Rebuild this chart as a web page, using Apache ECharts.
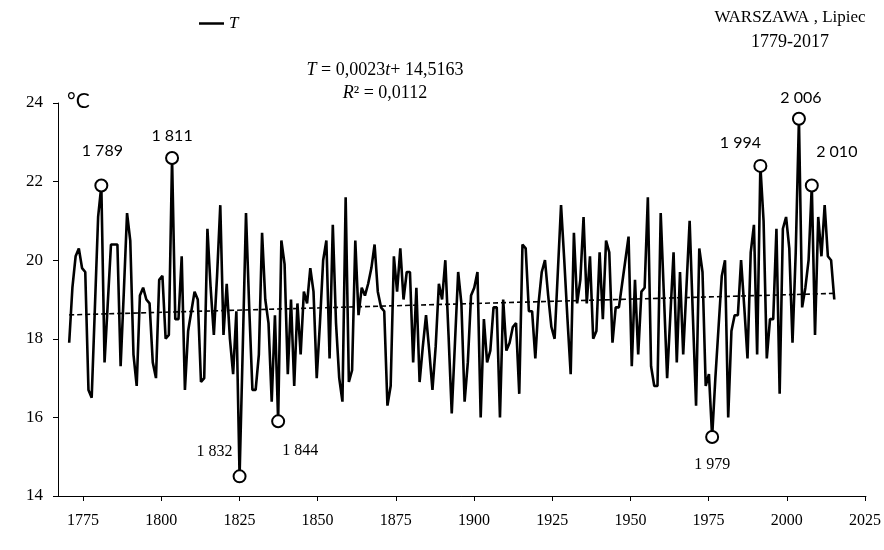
<!DOCTYPE html>
<html>
<head>
<meta charset="utf-8">
<script src="https://cdn.jsdelivr.net/npm/echarts@6/dist/echarts.min.js"></script>
<style>
  html, body { margin: 0; padding: 0; background: #ffffff; }
  #chart { width: 884px; height: 550px; }
</style>
</head>
<body>
<div id="chart"></div>
<script>
// Mean July air temperature in Warsaw, °C, one value per year from FIRST_YEAR on
const FIRST_YEAR = 1779;
const temperatures = [
  17.9,
  19.3, 20.1, 20.3, 19.8, 19.7, 16.7, 16.5, 18.8, 21.1, 21.9,   // 1780-1789
  17.4, 18.9, 20.4, 20.4, 20.4, 17.3, 19.2, 21.2, 20.5, 17.6,   // 1790-1799
  16.8, 19.1, 19.3, 19.0, 18.9, 17.4, 17.0, 19.5, 19.6, 18.0,   // 1800-1809
  18.1, 22.6, 18.5, 18.5, 20.1, 16.7, 18.2, 18.7, 19.2, 19.0,   // 1810-1819
  16.9, 17.0, 20.8, 19.3, 18.1, 19.6, 21.4, 18.1, 19.4, 18.0,   // 1820-1829
  17.1, 18.7, 14.5, 17.8, 21.2, 18.8, 16.7, 16.7, 17.6, 20.7,   // 1830-1839
  19.0, 18.4, 16.4, 18.6, 15.9, 20.5, 19.9, 17.1, 19.0, 16.8,   // 1840-1849
  18.9, 17.6, 19.2, 18.9, 19.8, 19.2, 17.0, 18.4, 20.0, 20.5,   // 1850-1859
  17.5, 20.9, 18.4, 17.0, 16.4, 21.6, 16.9, 17.2, 20.5, 18.6,   // 1860-1869
  19.3, 19.1, 19.4, 19.8, 20.4, 19.2, 18.8, 18.7, 16.3, 16.8,   // 1870-1879
  20.1, 19.2, 20.3, 19.0, 19.7, 19.7, 17.4, 19.3, 16.9, 17.8,   // 1880-1889
  18.6, 17.7, 16.7, 17.8, 19.4, 19.0, 20.0, 18.1, 16.1, 17.9,   // 1890-1899
  19.7, 18.9, 16.4, 17.4, 19.1, 19.3, 19.7, 16.0, 18.5, 17.4,   // 1900-1909
  17.7, 18.8, 18.8, 16.0, 19.0, 17.7, 17.9, 18.3, 18.4, 16.6,   // 1910-1919
  20.4, 20.3, 18.7, 18.7, 17.5, 18.9, 19.7, 20.0, 19.1, 18.3,   // 1920-1929
  18.0, 19.7, 21.4, 20.0, 18.5, 17.1, 20.7, 18.9, 19.5, 21.1,   // 1930-1939
  18.9, 20.1, 18.0, 18.2, 20.2, 18.5, 20.5, 20.2, 17.9, 18.8,   // 1940-1949
  18.8, 19.4, 20.0, 20.6, 17.3, 19.5, 17.6, 19.2, 19.3, 21.6,   // 1950-1959
  17.3, 16.8, 16.8, 21.2, 19.1, 17.0, 18.6, 20.2, 17.4, 19.7,   // 1960-1969
  17.6, 19.3, 21.0, 18.6, 16.3, 20.3, 19.7, 16.8, 17.1, 15.5,   // 1970-1979
  17.0, 18.3, 19.6, 20.0, 16.0, 18.2, 18.6, 18.6, 20.0, 18.8,   // 1980-1989
  17.5, 20.2, 20.9, 17.6, 22.4, 21.0, 17.5, 18.5, 18.5, 20.8,   // 1990-1999
  16.6, 20.8, 21.1, 20.3, 17.9, 20.2, 23.6, 18.8, 19.3, 20.0,   // 2000-2009
  21.9, 18.1, 21.1, 20.1, 21.4, 20.1, 20.0, 19.0                // 2010-2017
];
const years = temperatures.map((_, i) => FIRST_YEAR + i);
const LAST_YEAR = years[years.length - 1];

// Extreme years that get a circle and a year label
const markedYears = [1789, 1811, 1832, 1844, 1979, 1994, 2006, 2010];

// Bottom axis tick labels
const xTickLabels = [1775, 1800, 1825, 1850, 1875, 1900, 1925, 1950, 1975, 2000, 2025];

// Linear trend T = a*t + b
const TREND_SLOPE = 0.0023;
const TREND_INTERCEPT = 14.5163;
const R_SQUARED = '0,0112';

// Label placement for the marked years (offset from the point, font)
const SANS = 'Lato, "Noto Sans", sans-serif';
const SERIF = '"Liberation Serif", "DejaVu Serif", serif';
const markLabelStyle = {
  1789: { offset: [1, -35], font: SANS },
  1811: { offset: [0, -22], font: SANS },
  1832: { offset: [-25, -25], font: SERIF },
  1844: { offset: [22, 29], font: SERIF },
  1979: { offset: [0, 28], font: SERIF },
  1994: { offset: [-20, -23], font: SANS },
  2006: { offset: [2, -21], font: SANS },
  2010: { offset: [25, -34], font: SANS }
};

const formatYear = y => String(y).replace(/^(\d)(\d{3})$/, '$1 $2');
const trendAt = t => TREND_SLOPE * t + TREND_INTERCEPT;
const fmtNum = (v, d) => v.toFixed(d).replace('.', ',');

const seriesData = years.map((y, i) => [y, temperatures[i]]);
const markData = markedYears.map(y => {
  const st = markLabelStyle[y];
  return {
    value: [y, temperatures[y - FIRST_YEAR]],
    label: {
      show: true,
      position: 'inside',
      offset: st.offset,
      formatter: formatYear(y),
      fontFamily: st.font,
      fontSize: 16,
      color: '#000',
      textBorderWidth: 0,
      textBorderColor: 'transparent',
      align: 'center',
      verticalAlign: 'middle'
    }
  };
});

const option = {
  animation: false,
  backgroundColor: '#ffffff',
  grid: { left: 58, right: 18, top: 103, bottom: 54, containLabel: false },
  legend: {
    data: ['T'],
    left: 194,
    top: 10,
    icon: 'rect',
    itemWidth: 25,
    itemHeight: 2.5,
    itemGap: 4,
    textStyle: { fontFamily: SERIF, fontStyle: 'italic', fontSize: 17, color: '#000' }
  },
  xAxis: [
    {
      // data positions
      type: 'value',
      min: 1775.52,
      max: 2026.84,
      show: false
    },
    {
      // year labels along the bottom
      type: 'value',
      min: 1767,
      max: 2025.3,
      position: 'bottom',
      axisLine: { show: true, lineStyle: { color: '#000', width: 1 } },
      axisTick: { show: true, length: 5, inside: false, customValues: xTickLabels, lineStyle: { color: '#000' } },
      axisLabel: {
        show: true,
        customValues: xTickLabels,
        margin: 17,
        fontFamily: SERIF,
        fontSize: 16,
        color: '#000',
        formatter: v => String(v)
      },
      splitLine: { show: false }
    }
  ],
  yAxis: {
    type: 'value',
    min: 14,
    max: 24,
    interval: 2,
    axisLine: { show: true, lineStyle: { color: '#000', width: 1 } },
    axisTick: { show: true, length: 5, inside: false, lineStyle: { color: '#000' } },
    axisLabel: { margin: 15, fontFamily: SERIF, fontSize: 17, color: '#000' },
    splitLine: { show: false }
  },
  series: [
    {
      name: 'T',
      type: 'line',
      xAxisIndex: 0,
      data: seriesData,
      symbol: 'none',
      lineStyle: { color: '#000', width: 2.6 },
      itemStyle: { color: '#000' },
      z: 2
    },
    {
      name: 'trend',
      type: 'line',
      xAxisIndex: 0,
      data: [[FIRST_YEAR, trendAt(FIRST_YEAR)], [LAST_YEAR, trendAt(LAST_YEAR)]],
      symbol: 'none',
      silent: true,
      lineStyle: { color: '#000', width: 1.6, type: [5, 3] },
      z: 3
    },
    {
      name: 'extremes',
      type: 'scatter',
      xAxisIndex: 0,
      data: markData,
      symbol: 'circle',
      symbolSize: 12,
      itemStyle: { color: '#fff', borderColor: '#000', borderWidth: 2, opacity: 1 },
      z: 5
    }
  ],
  graphic: [
    {
      type: 'text',
      left: 67,
      top: 91,
      style: { text: '°C', font: '21px ' + SANS, fill: '#000' }
    },
    {
      type: 'text',
      x: 385,
      y: 70,
      style: {
        text: '{i|T} = ' + fmtNum(TREND_SLOPE, 4) + '{i|t}+ ' + fmtNum(TREND_INTERCEPT, 4),
        align: 'center',
        verticalAlign: 'middle',
        font: '18px ' + SERIF,
        fill: '#000',
        rich: { i: { fontStyle: 'italic', fontFamily: SERIF, fontSize: 18, fill: '#000' } }
      }
    },
    {
      type: 'text',
      x: 385,
      y: 93,
      style: {
        text: '{i|R}² = ' + R_SQUARED,
        align: 'center',
        verticalAlign: 'middle',
        font: '18px ' + SERIF,
        fill: '#000',
        rich: { i: { fontStyle: 'italic', fontFamily: SERIF, fontSize: 18, fill: '#000' } }
      }
    },
    {
      type: 'text',
      x: 790,
      y: 18,
      style: {
        text: 'WARSZAWA , Lipiec',
        align: 'center',
        verticalAlign: 'middle',
        font: '17px ' + SERIF,
        fill: '#000'
      }
    },
    {
      type: 'text',
      x: 790,
      y: 42,
      style: {
        text: FIRST_YEAR + '-' + LAST_YEAR,
        align: 'center',
        verticalAlign: 'middle',
        font: '18px ' + SERIF,
        fill: '#000'
      }
    }
  ]
};

const chart = echarts.init(document.getElementById('chart'), null, { renderer: 'canvas' });
chart.setOption(option);
</script>
</body>
</html>
